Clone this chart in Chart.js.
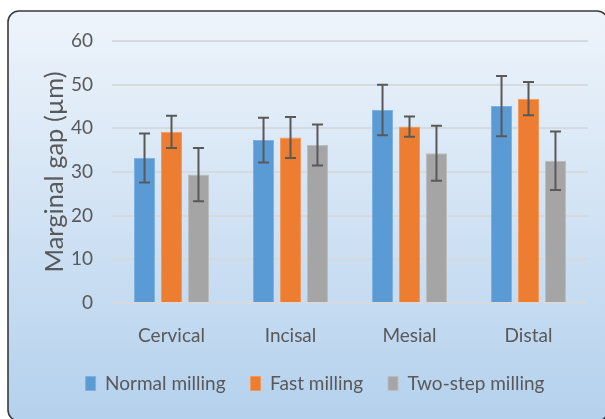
<!DOCTYPE html>
<html><head><meta charset="utf-8">
<script src="https://cdn.jsdelivr.net/npm/chart.js@4/dist/chart.umd.min.js"></script>
<style>html,body{margin:0;padding:0;background:#fff}#wrap{width:605px;height:419px;position:relative}</style>
</head><body><div id="wrap"><canvas id="c" width="605" height="419"></canvas></div>
<script>
const categories = ['Cervical', 'Incisal', 'Mesial', 'Distal'];
const seriesNames = ['Normal milling', 'Fast milling', 'Two-step milling'];
const normalMean = [33.2, 37.3, 44.2, 45.1];
const normalSd = [5.6, 5.1, 5.8, 6.9];
const fastMean = [39.2, 37.9, 40.4, 46.8];
const fastSd = [3.7, 4.7, 2.3, 3.8];
const twoStepMean = [29.4, 36.2, 34.3, 32.6];
const twoStepSd = [6.1, 4.7, 6.3, 6.7];
const yTicks = [0, 10, 20, 30, 40, 50, 60];
const yTitle = 'Marginal gap (µm)';

const FONT = 'Lato, "Noto Sans", sans-serif';
const TXT = '#595959';

const bgPlugin = {
  id: 'bg',
  beforeDraw(chart) {
    const ctx = chart.ctx;
    ctx.save();
    ctx.fillStyle = '#ffffff';
    ctx.fillRect(0, 0, chart.width, chart.height);
    const x = 8, y = 11, w = 600, h = 410, r = 11;
    const g = ctx.createLinearGradient(0, y, 0, y + h);
    g.addColorStop(0, '#eef4fb');
    g.addColorStop(1, '#b4d1ed');
    ctx.beginPath();
    ctx.moveTo(x + r, y);
    ctx.lineTo(x + w - r, y);
    ctx.arcTo(x + w, y, x + w, y + r, r);
    ctx.lineTo(x + w, y + h - r);
    ctx.arcTo(x + w, y + h, x + w - r, y + h, r);
    ctx.lineTo(x + r, y + h);
    ctx.arcTo(x, y + h, x, y + h - r, r);
    ctx.lineTo(x, y + r);
    ctx.arcTo(x, y, x + r, y, r);
    ctx.closePath();
    ctx.fillStyle = g;
    ctx.fill();
    ctx.lineWidth = 1.6;
    ctx.strokeStyle = '#3a3a3a';
    ctx.stroke();
    ctx.restore();
  }
};

const sds = [normalSd, fastSd, twoStepSd];
const errPlugin = {
  id: 'err',
  afterDatasetsDraw(chart) {
    const ctx = chart.ctx;
    const ys = chart.scales.y;
    ctx.save();
    ctx.strokeStyle = '#595959';
    ctx.lineWidth = 2;
    chart.data.datasets.forEach((ds, di) => {
      const meta = chart.getDatasetMeta(di);
      meta.data.forEach((el, i) => {
        const v = ds.data[i], s = sds[di][i];
        const yt = ys.getPixelForValue(v + s), yb = ys.getPixelForValue(v - s);
        const x = el.x, c = 5.5;
        ctx.beginPath();
        ctx.moveTo(x, yt); ctx.lineTo(x, yb);
        ctx.moveTo(x - c, yt); ctx.lineTo(x + c, yt);
        ctx.moveTo(x - c, yb); ctx.lineTo(x + c, yb);
        ctx.stroke();
      });
    });
    ctx.restore();
  }
};

function ds(label, data, color, border) {
  return {
    label, data,
    backgroundColor: color,
    borderColor: border,
    borderWidth: 1,
    categoryPercentage: 0.68,
    barPercentage: 0.78
  };
}

new Chart(document.getElementById('c'), {
  type: 'bar',
  data: {
    labels: categories,
    datasets: [
      ds(seriesNames[0], normalMean, '#5b9bd5', '#7db0e0'),
      ds(seriesNames[1], fastMean, '#ed7d31', '#f39a5e'),
      ds(seriesNames[2], twoStepMean, '#a5a5a5', '#bcbcbc')
    ]
  },
  options: {
    responsive: false,
    animation: false,
    devicePixelRatio: 1,
    layout: { padding: { left: 42, right: 17, top: 41, bottom: 16 } },
    plugins: {
      legend: {
        position: 'bottom',
        labels: {
          color: TXT,
          font: { family: FONT, size: 19 },
          boxWidth: 10,
          boxHeight: 14,
          padding: 25
        }
      },
      tooltip: { enabled: false }
    },
    scales: {
      x: {
        afterFit(s) { s.height = 46; },
        grid: { display: false, drawTicks: false },
        border: { display: false },
        ticks: { color: TXT, font: { family: FONT, size: 19 }, padding: 21 }
      },
      y: {
        min: 0, max: 60,
        afterBuildTicks(s) { s.ticks = yTicks.map(v => ({ value: v })); },
        afterFit(s) { s.width = 70; },
        grid: { color: '#d6d9dd', lineWidth: 2, drawTicks: false },
        border: { display: false },
        ticks: { color: TXT, font: { family: FONT, size: 19 }, padding: 19 },
        title: {
          display: true, text: yTitle, color: TXT,
          font: { family: FONT, size: 25.5, lineHeight: 1 },
          padding: { top: 0, bottom: 0 }
        }
      }
    }
  },
  plugins: [bgPlugin, errPlugin]
});
</script>
</body></html>
